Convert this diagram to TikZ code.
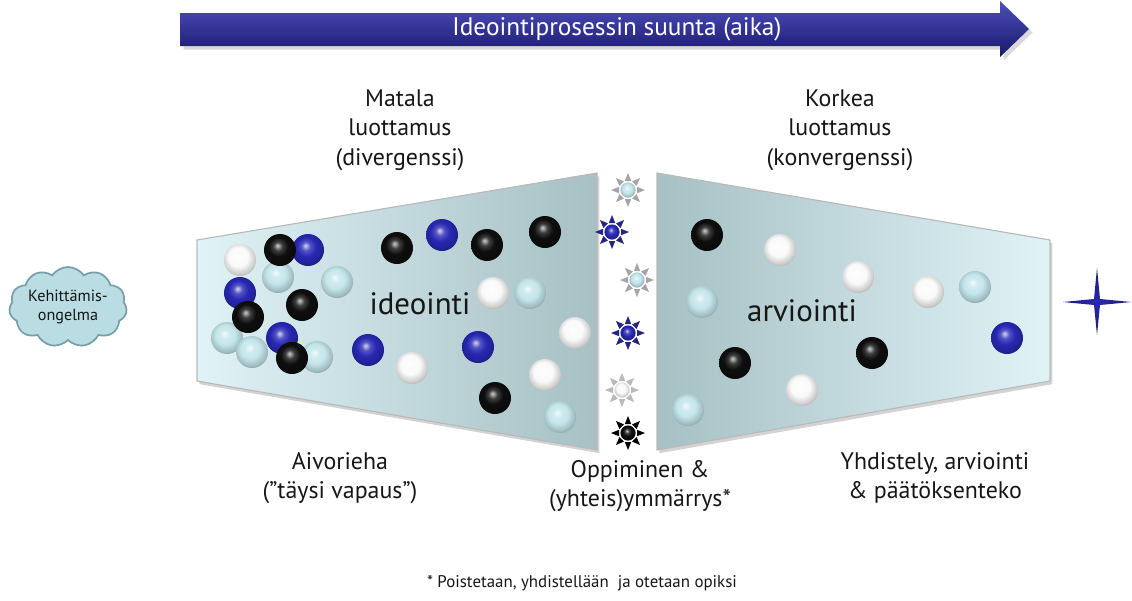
\documentclass[tikz,border=0pt]{standalone}
\usepackage{fontspec}
\setmainfont{PT Sans}
\usetikzlibrary{shapes.symbols, shadows, calc}
\definecolor{funnelDark}{RGB}{166,192,196}
\definecolor{funnelLight}{RGB}{224,243,247}
\definecolor{arrowTop}{RGB}{78,78,190}
\definecolor{arrowBottom}{RGB}{24,24,105}
\definecolor{orbBlue}{RGB}{40,40,180}
\definecolor{orbIce}{RGB}{196,230,235}
\definecolor{orbWhite}{RGB}{250,250,250}
\definecolor{orbBlack}{RGB}{14,14,14}
\definecolor{cloudFill}{RGB}{185,221,227}
\definecolor{cloudLine}{RGB}{118,158,166}
\definecolor{textDark}{RGB}{22,22,22}
\definecolor{starBlue}{RGB}{38,38,130}
\colorlet{orbtone}{orbBlue}

% glossy marble shading, tinted by orbtone
\pgfdeclareradialshading[orbtone]{glossy}{\pgfpoint{-4bp}{7bp}}{%
  color(0bp)=(orbtone!20!white); color(7bp)=(orbtone!80!white);
  color(15bp)=(orbtone); color(25bp)=(orbtone!82!black);
  color(32bp)=(orbtone!62!black); color(50bp)=(orbtone!62!black)}

\tikzset{
  glossy/.code={\colorlet{orbtone}{#1}\tikzset{shade, shading=glossy}},
  orb/.style={circle, minimum size=0.8cm, inner sep=0pt, glossy=#1},
  sunorb/.style={circle, minimum size=0.38cm, inner sep=0pt, glossy=#1},
  caption/.style={align=center, text=textDark, font=\fontsize{17}{21}\selectfont},
  funnelbox/.style={draw=gray!55, line width=0.8pt, drop shadow={opacity=0.35, shadow xshift=0.06cm, shadow yshift=-0.08cm}},
}

\begin{document}
\begin{tikzpicture}[x=0.025cm, y=-0.025cm]
  \useasboundingbox (0,0) rectangle (1132,600);

  % time arrow
  \shade[top color=arrowTop, bottom color=arrowBottom, drop shadow={opacity=0.3}]
    (180,13) -- (1000,13) -- (1000,1) -- (1029,29) -- (1000,57) -- (1000,46) -- (180,46) -- cycle;
  \node[text=white, font=\fontsize{18}{21}\selectfont] (timeline) at (617,29) {Ideointiprosessin suunta (aika)};

  % funnels
  \path[funnelbox, left color=funnelLight, right color=funnelDark]
    (197,240) -- (597,173) -- (597,450) -- (197,381) -- cycle;
  \path[funnelbox, left color=funnelDark, right color=funnelLight]
    (657,173) -- (1050,240) -- (1050,381) -- (657,450) -- cycle;

  % balls, divergent side
  \foreach \x/\y/\c [count=\i] in {
      278/277/orbIce, 240/260/orbWhite, 308/250/orbBlue, 280/250/orbBlack,
      337/282/orbIce, 240/293/orbBlue, 302/305/orbBlack, 227/338/orbIce,
      252/352/orbIce, 248/317/orbBlack, 317/357/orbIce, 282/338/orbBlue,
      292/358/orbBlack, 397/248/orbBlack, 442/235/orbBlue, 487/245/orbBlack,
      545/232/orbBlack, 493/293/orbWhite, 530/293/orbIce, 368/350/orbBlue,
      478/347/orbBlue, 412/368/orbWhite, 575/333/orbWhite, 545/375/orbWhite,
      495/398/orbBlack, 560/417/orbIce}
    \node[orb=\c] (div\i) at (\x,\y) {};

  % balls, convergent side
  \foreach \x/\y/\c [count=\i] in {
      707/235/orbBlack, 780/250/orbWhite, 858/277/orbWhite, 702/302/orbIce,
      928/292/orbWhite, 975/287/orbIce, 1007/338/orbBlue, 735/363/orbBlack,
      872/353/orbBlack, 802/390/orbWhite, 688/410/orbIce}
    \node[orb=\c] (conv\i) at (\x,\y) {};

  \node[font=\fontsize{22}{26}\selectfont, text=textDark] (ideation) at (420,304) {ideointi};
  \node[font=\fontsize{22}{26}\selectfont, text=textDark] (evaluation) at (802,311) {arviointi};

  % learning stars between the funnels
  \foreach \x/\y/\c/\r [count=\i] in {
      628/190/orbIce/gray!70, 612/232/orbBlue/starBlue, 637/280/orbIce/gray!70,
      628/333/orbBlue/starBlue, 622/390/orbWhite/gray!55, 628/433/orbBlack/black}
  {
    \node[sunorb=\c] (sun\i) at (\x,\y) {};
    \foreach \a in {0,45,...,315}
      \fill[\r, shift={(sun\i.center)}, rotate=\a] (9,3.2) -- (17,0) -- (9,-3.2) -- cycle;
  }

  % goal star
  \shade[inner color=orbBlue, outer color=starBlue!75!black]
    (1063,302) -- (1094,299) -- (1097,268) -- (1100,299) -- (1131,302)
    -- (1100,305) -- (1097,335) -- (1094,305) -- cycle;

  % problem cloud
  \node[cloud, cloud puffs=11, cloud puff arc=110, aspect=1.7, fill=cloudFill,
        draw=cloudLine, line width=1.2pt, minimum width=2.85cm, minimum height=1.72cm,
        inner sep=0pt, align=center, text=textDark, font=\fontsize{11.5}{13.5}\selectfont]
    (problem) at (68,307) {Kehittämis-\\ongelma};

  % captions
  \node[caption] (lowtrust) at (400,130) {Matala\\luottamus\\(divergenssi)};
  \node[caption] (hightrust) at (840,130) {Korkea\\luottamus\\(konvergenssi)};
  \node[caption] (brainstorm) at (340,478) {Aivorieha\\(”täysi vapaus”)};
  \node[caption] (learning) at (640,486) {Oppiminen \&\\(yhteis)ymmärrys*};
  \node[caption] (decision) at (935,478) {Yhdistely, arviointi\\\& päätöksenteko};
  \node[text=textDark, font=\fontsize{12}{14}\selectfont] (footnote) at (582,583)
    {* Poistetaan, yhdistellään \ ja otetaan opiksi};
\end{tikzpicture}
\end{document}
